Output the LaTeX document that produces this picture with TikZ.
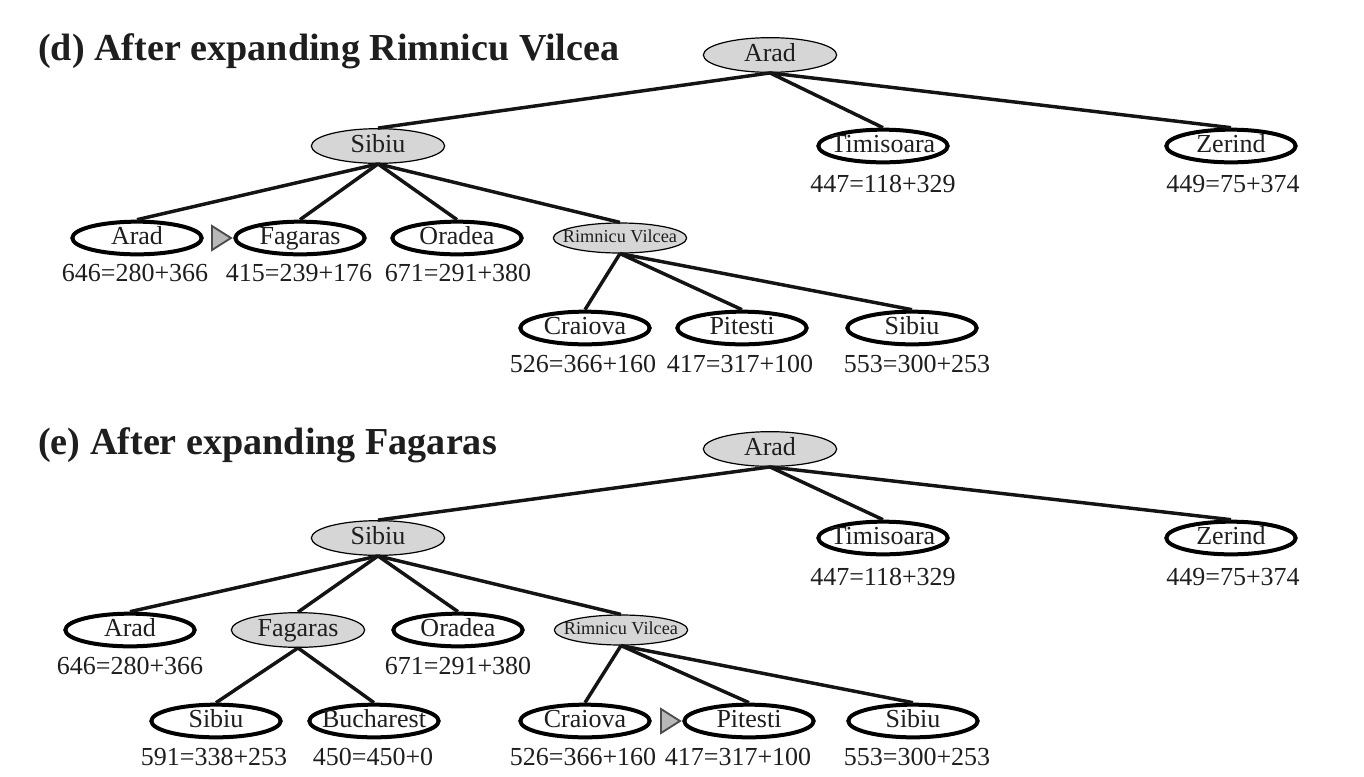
\documentclass[tikz,border=0pt]{standalone}
\usepackage{fontspec}
\setmainfont{Liberation Serif}
\usetikzlibrary{shapes.geometric}
\definecolor{nodegray}{HTML}{D6D6D6}
\definecolor{txt}{HTML}{1E1E1E}
\tikzset{
  base/.style={ellipse, inner sep=0pt, text=txt, font=\fontsize{19.5}{22}\selectfont, text height=13pt, text depth=3pt},
  leaf/.style={base, draw=black, line width=3pt, fill=white, minimum width=97pt, minimum height=24.5pt},
  expd/.style={base, draw=black, line width=0.9pt, fill=nodegray, minimum width=100pt, minimum height=26pt},
  expdsmall/.style={expd, font=\fontsize{13.7}{16}\selectfont, text height=9pt, text depth=2pt, minimum height=22.5pt},
  val/.style={inner sep=0pt, text=txt, font=\fontsize{19.5}{22}\selectfont},
  ttl/.style={inner sep=0pt, anchor=base west, text=txt, font=\fontsize{28.6}{32}\selectfont\bfseries},
  edge/.style={line width=2.6pt, draw=black!92},
  tri/.style={draw=black!70, fill=black!28, line width=1.4pt, line join=miter}
}
\newcommand{\nm}[1]{\makebox[0pt]{#1}}
\begin{document}
\begin{tikzpicture}[x=0.75pt,y=-0.75pt]
\useasboundingbox (0,0) rectangle (1364,776);
% ---------------- panel d
\node[ttl] (td) at (38,60) {(d) After expanding Rimnicu Vilcea};
\node[expd] (dA) at (770,55) {\nm{Arad}};
\node[expd] (dS) at (378,146) {\nm{Sibiu}};
\node[leaf] (dT) at (883,146) {\nm{Timisoara}};
\node[leaf] (dZ) at (1231,146) {\nm{Zerind}};
\node[val] (dTv) at (883,184) {447=118+329};
\node[val] (dZv) at (1233,184) {449=75+374};
\node[leaf] (dSA) at (137,238) {\nm{Arad}};
\node[leaf] (dSF) at (300,238) {\nm{Fagaras}};
\node[leaf] (dSO) at (457,238) {\nm{Oradea}};
\node[expdsmall] (dSR) at (620,238) {\nm{Rimnicu Vilcea}};
\node[val] (dSAv) at (135,273) {646=280+366};
\node[val] (dSFv) at (299,273) {415=239+176};
\node[val] (dSOv) at (458,273) {671=291+380};
\node[leaf] (dRC) at (585,328) {\nm{Craiova}};
\node[leaf] (dRP) at (742,328) {\nm{Pitesti}};
\node[leaf] (dRS) at (912,328) {\nm{Sibiu}};
\node[val] (dRCv) at (583,364) {526=366+160};
\node[val] (dRPv) at (740,364) {417=317+100};
\node[val] (dRSv) at (917,364) {553=300+253};
\draw[tri] (212,226) -- (231,238) -- (212,250) -- cycle;
\foreach \c in {dS,dT,dZ} \draw[edge] (dA.south) -- (\c.north);
\foreach \c in {dSA,dSF,dSO,dSR} \draw[edge] (dS.south) -- (\c.north);
\foreach \c in {dRC,dRP,dRS} \draw[edge] (dSR.south) -- (\c.north);
% ---------------- panel e
\node[ttl] (te) at (38,454) {(e) After expanding Fagaras};
\node[expd] (eA) at (770,449) {\nm{Arad}};
\node[expd] (eS) at (378,538) {\nm{Sibiu}};
\node[leaf] (eT) at (883,538) {\nm{Timisoara}};
\node[leaf] (eZ) at (1231,538) {\nm{Zerind}};
\node[val] (eTv) at (883,577) {447=118+329};
\node[val] (eZv) at (1233,577) {449=75+374};
\node[leaf] (eSA) at (130,630) {\nm{Arad}};
\node[expd] (eSF) at (298,630) {\nm{Fagaras}};
\node[leaf] (eSO) at (458,630) {\nm{Oradea}};
\node[expdsmall] (eSR) at (621,630) {\nm{Rimnicu Vilcea}};
\node[val] (eSAv) at (130,666) {646=280+366};
\node[val] (eSOv) at (458,666) {671=291+380};
\node[leaf] (eFS) at (216,721) {\nm{Sibiu}};
\node[leaf] (eFB) at (374,721) {\nm{Bucharest}};
\node[val] (eFSv) at (214,757) {591=338+253};
\node[val] (eFBv) at (373,757) {450=450+0};
\node[leaf] (eRC) at (585,721) {\nm{Craiova}};
\node[leaf] (eRP) at (749,721) {\nm{Pitesti}};
\node[leaf] (eRS) at (913,721) {\nm{Sibiu}};
\node[val] (eRCv) at (583,757) {526=366+160};
\node[val] (eRPv) at (738,757) {417=317+100};
\node[val] (eRSv) at (917,757) {553=300+253};
\draw[tri] (661,709) -- (680,721) -- (661,733) -- cycle;
\foreach \c in {eS,eT,eZ} \draw[edge] (eA.south) -- (\c.north);
\foreach \c in {eSA,eSF,eSO,eSR} \draw[edge] (eS.south) -- (\c.north);
\foreach \c in {eFS,eFB} \draw[edge] (eSF.south) -- (\c.north);
\foreach \c in {eRC,eRP,eRS} \draw[edge] (eSR.south) -- (\c.north);
\end{tikzpicture}
\end{document}
